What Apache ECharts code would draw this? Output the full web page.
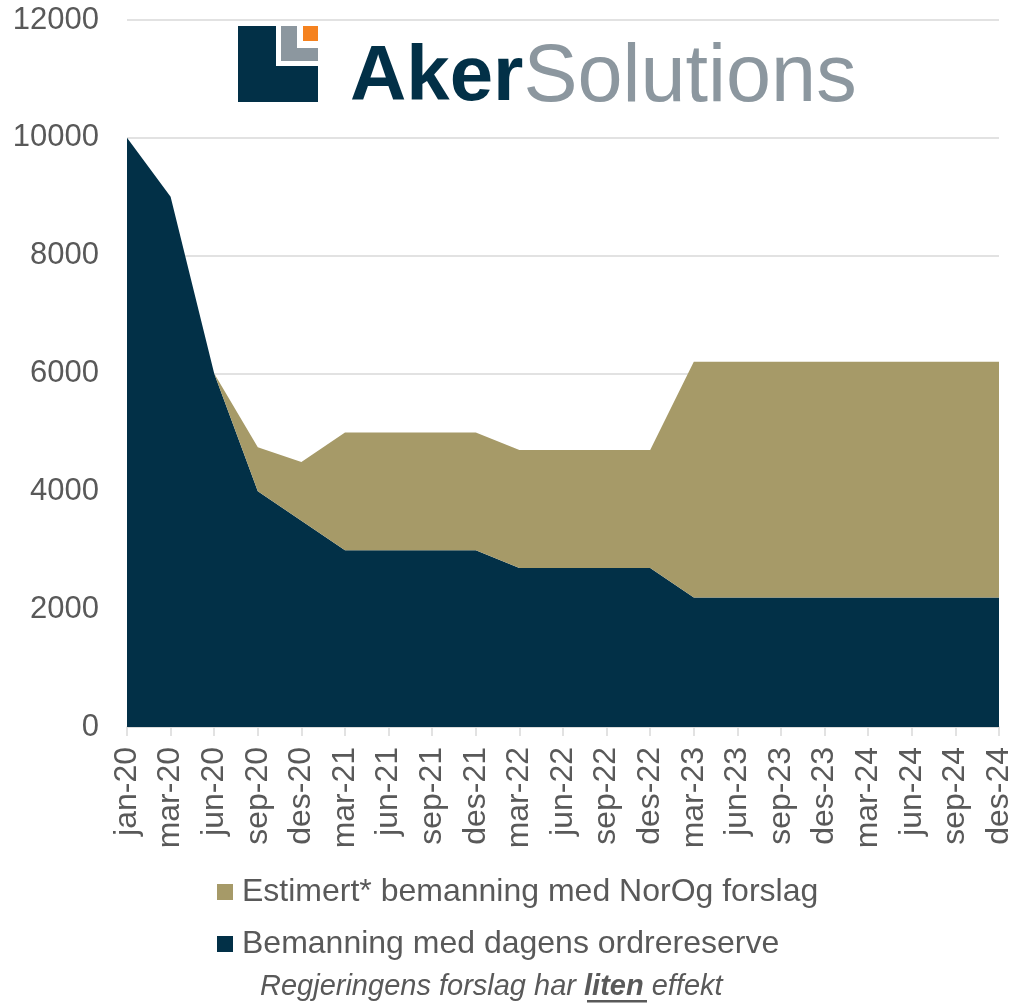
<!DOCTYPE html>
<html>
<head>
<meta charset="utf-8">
<script src="https://cdn.jsdelivr.net/npm/echarts@6/dist/echarts.min.js"></script>
<style>
  html, body { margin: 0; padding: 0; background: #fff; }
  #chart { width: 1015px; height: 1004px; }
</style>
</head>
<body>
<div id="chart"></div>
<script>
const months = ['jan-20', 'mar-20', 'jun-20', 'sep-20', 'des-20', 'mar-21', 'jun-21', 'sep-21', 'des-21',
  'mar-22', 'jun-22', 'sep-22', 'des-22', 'mar-23', 'jun-23', 'sep-23', 'des-23', 'mar-24', 'jun-24', 'sep-24', 'des-24']
// bemanning med dagens ordrereserve
const baseStaff = [10000, 9000, 6000, 4000, 3500, 3000, 3000, 3000, 3000, 2700, 2700, 2700, 2700,
  2200, 2200, 2200, 2200, 2200, 2200, 2200, 2200]
// ekstra bemanning med NorOg forslag (stables oppå)
const norogExtra = [0, 0, 0, 750, 1000, 2000, 2000, 2000, 2000, 2000, 2000, 2000, 2000,
  4000, 4000, 4000, 4000, 4000, 4000, 4000, 4000]
const yTicks = [0, 2000, 4000, 6000, 8000, 10000, 12000]

const NAVY = '#023047'
const TAN = '#a69a68'
const LOGO_GREY = '#8c979f'
const GREY_TXT = '#595959'
const FONT = 'Liberation Sans, Arial, sans-serif'

const chart = echarts.init(document.getElementById('chart'))

const option = {
  backgroundColor: '#fff',
  animation: false,
  grid: { left: 127, right: 16, top: 20, bottom: 277, containLabel: false },
  title: {
    left: 260,
    top: 972,
    padding: 0,
    text: '{i|Regjeringens forslag har }{b|liten}{i| effekt}',
    textStyle: {
      fontWeight: 'normal',
      rich: {
        i: { fontFamily: FONT, fontSize: 29, fontStyle: 'italic', fontWeight: 'normal', color: GREY_TXT },
        b: { fontFamily: FONT, fontSize: 29, fontStyle: 'italic', fontWeight: 'bold', color: GREY_TXT },
      },
    },
  },
  legend: {
    orient: 'vertical',
    left: 217,
    top: 876,
    padding: 0,
    itemWidth: 16,
    itemHeight: 16,
    itemGap: 20,
    icon: 'rect',
    data: ['Estimert* bemanning med NorOg forslag', 'Bemanning med dagens ordrereserve'],
    textStyle: { fontFamily: FONT, fontSize: 32, color: GREY_TXT, padding: [0, 0, 0, 4] },
  },
  xAxis: {
    type: 'category',
    boundaryGap: false,
    data: months,
    axisLine: { lineStyle: { color: '#d9d9d9', width: 1.5 } },
    axisTick: { show: true, length: 9, lineStyle: { color: '#d9d9d9', width: 1.5 } },
    axisLabel: { rotate: 90, margin: 20, fontFamily: FONT, fontSize: 32, color: GREY_TXT, interval: 0 },
  },
  yAxis: {
    type: 'value',
    min: yTicks[0],
    max: yTicks[yTicks.length - 1],
    interval: 2000,
    axisLine: { show: false },
    axisTick: { show: false },
    splitLine: { lineStyle: { color: '#d9d9d9', width: 1.5 } },
    axisLabel: { margin: 28, fontFamily: FONT, fontSize: 31, color: GREY_TXT, formatter: v => String(v) },
  },
  series: [
    {
      name: 'Bemanning med dagens ordrereserve',
      type: 'line',
      stack: 'total',
      data: baseStaff,
      symbol: 'none',
      lineStyle: { width: 0 },
      itemStyle: { color: NAVY },
      areaStyle: { color: NAVY, opacity: 1 },
    },
    {
      name: 'Estimert* bemanning med NorOg forslag',
      type: 'line',
      stack: 'total',
      data: norogExtra,
      symbol: 'none',
      lineStyle: { width: 0 },
      itemStyle: { color: TAN },
      areaStyle: { color: TAN, opacity: 1 },
    },
  ],
  graphic: [
    // Aker Solutions logo
    { type: 'rect', shape: { x: 238, y: 26, width: 80, height: 76 }, style: { fill: NAVY }, z: 10 },
    { type: 'rect', shape: { x: 276, y: 25, width: 43, height: 41 }, style: { fill: '#fff' }, z: 11 },
    { type: 'rect', shape: { x: 281, y: 26, width: 16, height: 35 }, style: { fill: LOGO_GREY }, z: 12 },
    { type: 'rect', shape: { x: 281, y: 48, width: 37, height: 13 }, style: { fill: LOGO_GREY }, z: 12 },
    { type: 'rect', shape: { x: 303, y: 26, width: 15, height: 15 }, style: { fill: '#f5821f' }, z: 12 },
    {
      type: 'text', left: 350, top: 38, z: 12,
      style: {
        text: '{a|Aker}{s|Solutions}',
        rich: {
          a: { fontFamily: FONT, fontSize: 78, fontWeight: 'bold', fill: NAVY, color: NAVY },
          s: { fontFamily: FONT, fontSize: 81, fill: LOGO_GREY, color: LOGO_GREY },
        },
      },
    },
    // understreking under "liten"
    { type: 'rect', shape: { x: 587, y: 1000, width: 60, height: 2.5 }, style: { fill: GREY_TXT }, z: 12 },
  ],
}

chart.setOption(option)
</script>
</body>
</html>
